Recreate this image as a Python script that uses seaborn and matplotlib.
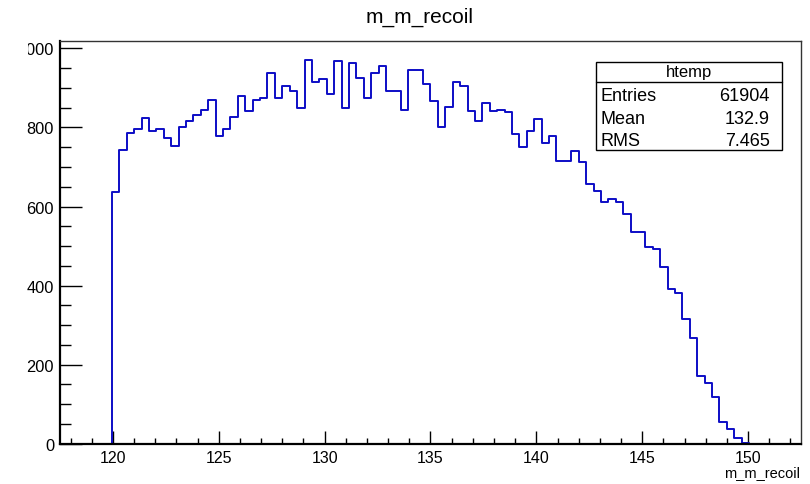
import numpy as np
import pandas as pd
import matplotlib
matplotlib.use("Agg")
import matplotlib.pyplot as plt
import seaborn as sns
from matplotlib.patches import Rectangle
from matplotlib.lines import Line2D
from matplotlib.transforms import Bbox, TransformedBbox
from matplotlib.ticker import MultipleLocator, FixedLocator

# ---------------- data ----------------
title = "m_m_recoil"
xlabel = "m_m_recoil"
hist_name = "htemp"
stat_labels = ["Entries", "Mean", "RMS"]
stat_values = ["61904", "132.9", "7.465"]

x_min, x_max, n_bins = 117.5, 152.5, 100
first_filled_bin = 7  # bins before this are empty
counts = [637, 743, 786, 796, 823, 792, 795, 773, 752, 801,
          816, 831, 845, 870, 778, 795, 826, 879, 841, 870,
          874, 937, 875, 906, 893, 849, 971, 916, 923, 885,
          967, 849, 962, 925, 874, 937, 955, 891, 891, 844,
          946, 946, 910, 868, 801, 851, 914, 906, 841, 817,
          862, 841, 844, 840, 784, 750, 792, 822, 760, 778,
          716, 716, 741, 712, 657, 640, 611, 619, 611, 581,
          536, 536, 497, 493, 446, 391, 381, 316, 267, 172,
          154, 119, 54, 37, 14, 3]
y_ticks = [0, 200, 400, 600, 800, 1000]
x_ticks = [120, 125, 130, 135, 140, 145, 150]
y_max = 1020

# ---------------- figure ----------------
sns.set_theme(style="white")
plt.rcParams["font.family"] = ["Liberation Sans", "DejaVu Sans"]
plt.rcParams["text.color"] = "black"
plt.rcParams["xtick.color"] = "black"
plt.rcParams["ytick.color"] = "black"
plt.rcParams["xtick.labelcolor"] = "black"
plt.rcParams["ytick.labelcolor"] = "black"

W, H = 810, 485
fig = plt.figure(figsize=(W / 100, H / 100), dpi=100)

def fx(px):
    return px / W

def fy(py):
    return 1 - py / H

ax_l, ax_r, ax_t, ax_b = 60, 801, 41.5, 444.7
ax = fig.add_axes([fx(ax_l), fy(ax_b), fx(ax_r) - fx(ax_l), fy(ax_t) - fy(ax_b)])

edges = np.linspace(x_min, x_max, n_bins + 1)
width = edges[1] - edges[0]
centers = edges[first_filled_bin:first_filled_bin + len(counts)] + width / 2
df = pd.DataFrame({"x": centers, "w": counts})
sns.histplot(data=df, x="x", weights="w", bins=list(edges), element="step", fill=False,
             color="#0d0dc6", linewidth=1.4, ax=ax)

ax.set_xlim(x_min, x_max)
ax.set_ylim(0, y_max)
ax.set_xlabel("")
ax.set_ylabel("")
ax.set_facecolor("white")

ax.xaxis.set_major_locator(FixedLocator(x_ticks))
ax.xaxis.set_minor_locator(MultipleLocator(1))
ax.yaxis.set_major_locator(FixedLocator(y_ticks))
ax.yaxis.set_minor_locator(MultipleLocator(50))
ax.set_yticklabels([str(v) for v in y_ticks])

ax.tick_params(axis="both", which="both", direction="in", color="black",
               labelcolor="black", top=False, right=False, left=True, bottom=True)
ax.tick_params(axis="x", which="major", length=9.4, width=1.0, pad=4.5, labelsize=11.5)
ax.tick_params(axis="x", which="minor", length=4.6, width=1.0)
ax.tick_params(axis="y", which="major", length=15.8, width=1.0, pad=4.3, labelsize=11.8)
ax.tick_params(axis="y", which="minor", length=7.9, width=1.0)

for s in ["left", "bottom"]:
    ax.spines[s].set_color("black")
    ax.spines[s].set_linewidth(1.6)
for s in ["top", "right"]:
    ax.spines[s].set_color("#333333")
    ax.spines[s].set_linewidth(1.0)

# title and axis label (ROOT style)
fig.text(fx(420), fy(17), title, ha="center", va="center", fontsize=15, color="black")
fig.text(fx(800), fy(477), xlabel, ha="right", va="baseline", fontsize=10.5, color="black")

# stats box
bx0, bx1, by0, by1, bhead = 596, 782, 62.7, 151, 82.7
fig.add_artist(Rectangle((fx(bx0), fy(by1)), fx(bx1) - fx(bx0), fy(by0) - fy(by1),
                         transform=fig.transFigure, facecolor="white",
                         edgecolor="black", linewidth=1.0, zorder=5))
fig.add_artist(Line2D([fx(bx0), fx(bx1)], [fy(bhead), fy(bhead)],
                      transform=fig.transFigure, color="black", linewidth=1.0, zorder=6))
fig.text(fx((bx0 + bx1) / 2), fy(72.5), hist_name, ha="center", va="center",
         fontsize=12, zorder=7, color="black")
row_y = [97, 119, 141]
for lab, val, yy in zip(stat_labels, stat_values, row_y):
    fig.text(fx(601), fy(yy), lab, ha="left", va="center", fontsize=13, zorder=7, color="black")
    fig.text(fx(770), fy(yy), val, ha="right", va="center", fontsize=13, zorder=7, color="black")

# the leading "1" of the top y label is cut off in the reference
fig.canvas.draw()
clip = TransformedBbox(Bbox.from_extents(fx(27.5), 0, 1, 1), fig.transFigure)
for lbl in ax.yaxis.get_majorticklabels():
    if lbl.get_text() == "1000":
        lbl.set_clip_on(True)
        lbl.set_clip_box(clip)

fig.savefig("out.png", dpi=100, facecolor="white")
